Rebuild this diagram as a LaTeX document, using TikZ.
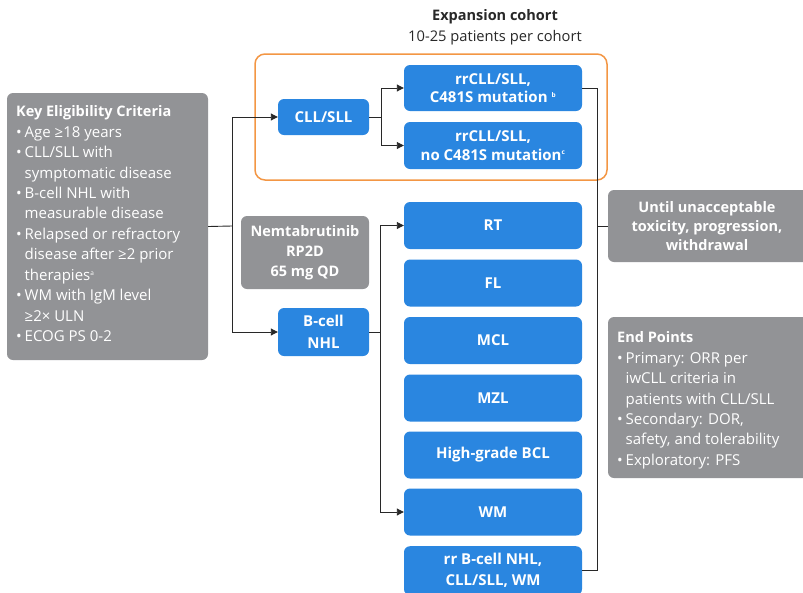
\documentclass[tikz,border=0pt]{standalone}
\usepackage{fontspec}
\setmainfont{Open Sans}
\usetikzlibrary{arrows.meta}
\definecolor{bl}{RGB}{42,134,224}
\definecolor{gr}{RGB}{146,147,150}
\definecolor{org}{RGB}{243,150,68}
\definecolor{ln}{RGB}{40,40,40}
\newcommand{\bul}{\makebox[8.5pt][l]{•}}
\newcommand{\ind}{\hspace*{8.5pt}}
\newcommand{\sups}[1]{\textsuperscript{\fontsize{6.5}{6.5}\selectfont #1}}
\begin{document}
\begin{tikzpicture}[x=1pt,y=-1pt,
  bbox/.style={fill=bl, rounded corners=6pt, text=white, font=\fontsize{15}{18.5}\selectfont\bfseries, align=center, inner sep=0pt, minimum width=178},
  gbox/.style={fill=gr, rounded corners=6pt, text=white, inner sep=0pt},
  gtext/.style={text=white, inner sep=0pt, align=left, anchor=north west, font=\fontsize{15}{20.45}\selectfont},
  conn/.style={draw=ln, line width=0.9pt},
  arr/.style={conn, -{Triangle[length=7pt,width=7pt]}}]
\useasboundingbox (0,0) rectangle (803,592);
\clip (0,0) rectangle (803,592);

% titles
\node[font=\fontsize{14.5}{17}\selectfont\bfseries, text=ln] (t1) at (495,17) {Expansion cohort};
\node[font=\fontsize{14.7}{17}\selectfont, text=ln] (t2) at (495,38) {10-25 patients per cohort};

% orange frame
\node[draw=org, line width=1.5pt, rounded corners=10pt, minimum width=352, minimum height=126, inner sep=0pt] (exp) at (431,117) {};

% left eligibility box
\node[gbox, minimum width=201, minimum height=267] (elig) at (107.5,226.5) {};
\node[gtext] (eligt) at (16,105.5) {{\fontsize{14.5}{20.45}\selectfont\bfseries Key Eligibility Criteria}\\
\bul Age ≥18 years\\
\bul CLL/SLL with\\
\ind symptomatic disease\\
\bul B-cell NHL with\\
\ind measurable disease\\
\bul Relapsed or refractory\\
\ind disease after ≥2 prior\\
\ind therapies\sups{a}\\
\bul WM with IgM level\\
\ind ≥2× ULN\\
\bul ECOG PS 0-2};

% blue boxes
\node[bbox, minimum width=91, minimum height=36] (cll) at (323.5,117) {CLL/SLL};
\node[bbox, minimum height=46] (c1) at (493,88) {rrCLL/SLL,\\C481S mutation \sups{b}};
\node[bbox, minimum height=47] (c2) at (493,145.5) {rrCLL/SLL,\\no C481S mutation\sups{c}};
\node[gbox, minimum width=128, minimum height=73, align=center, font=\fontsize{14.5}{20}\selectfont\bfseries] (nem) at (305,252.5) {Nemtabrutinib\\RP2D\\65 mg QD};
\node[bbox, minimum width=91, minimum height=48, font=\fontsize{15}{22}\selectfont\bfseries] (bnhl) at (323.5,332) {B-cell\\NHL};
\node[bbox, minimum height=47] (rt) at (493,225.5) {RT};
\node[bbox, minimum height=47] (fl) at (493,283) {FL};
\node[bbox, minimum height=47] (mcl) at (493,340.5) {MCL};
\node[bbox, minimum height=47] (mzl) at (493,398) {MZL};
\node[bbox, minimum height=47] (hg) at (493,455) {High-grade BCL};
\node[bbox, minimum height=47] (wm) at (493,512) {WM};
\node[bbox, minimum height=49, font=\fontsize{15}{21}\selectfont\bfseries, anchor=north] (rr) at (493,546) {rr B-cell NHL,\\CLL/SLL, WM};

% right grey boxes
\node[gbox, minimum width=212, minimum height=72] (until) at (714,226) {};
\node[align=center, text=white, font=\fontsize{14.5}{19}\selectfont\bfseries] (untilt) at (707,226) {Until unacceptable\\toxicity, progression,\\withdrawal};
\node[gbox, minimum width=212, minimum height=161] (ep) at (714,397.5) {};
\node[gtext] (ept) at (617,331.5) {{\fontsize{14.5}{20.5}\selectfont\bfseries End Points}\\
\bul Primary: ORR per\\
\ind iwCLL criteria in\\
\ind patients with CLL/SLL\\
\bul Secondary: DOR,\\
\ind safety, and tolerability\\
\bul Exploratory: PFS};

% connectors
\coordinate (j1) at (232,226);
\draw[conn] (elig.east) -- (j1);
\draw[arr] (j1) |- (cll.west);
\draw[arr] (j1) |- (bnhl.west);

\coordinate (j2) at (381,117);
\draw[conn] (cll.east) -- (j2);
\draw[arr] (j2) |- (c1.west);
\draw[arr] (j2) |- (c2.west);

\coordinate (j3) at (380,332);
\draw[conn] (bnhl.east) -- (j3);
\draw[arr] (j3) |- (rt.west);
\draw[arr] (j3) |- (wm.west);

\coordinate (rx) at (597,0);
\draw[conn] (c1.east) -- (c1.east -| rx) -- (rr.east -| rx) -- (rr.east);
\draw[conn] (rx |- until.west) -- (until.west);
\end{tikzpicture}
\end{document}
